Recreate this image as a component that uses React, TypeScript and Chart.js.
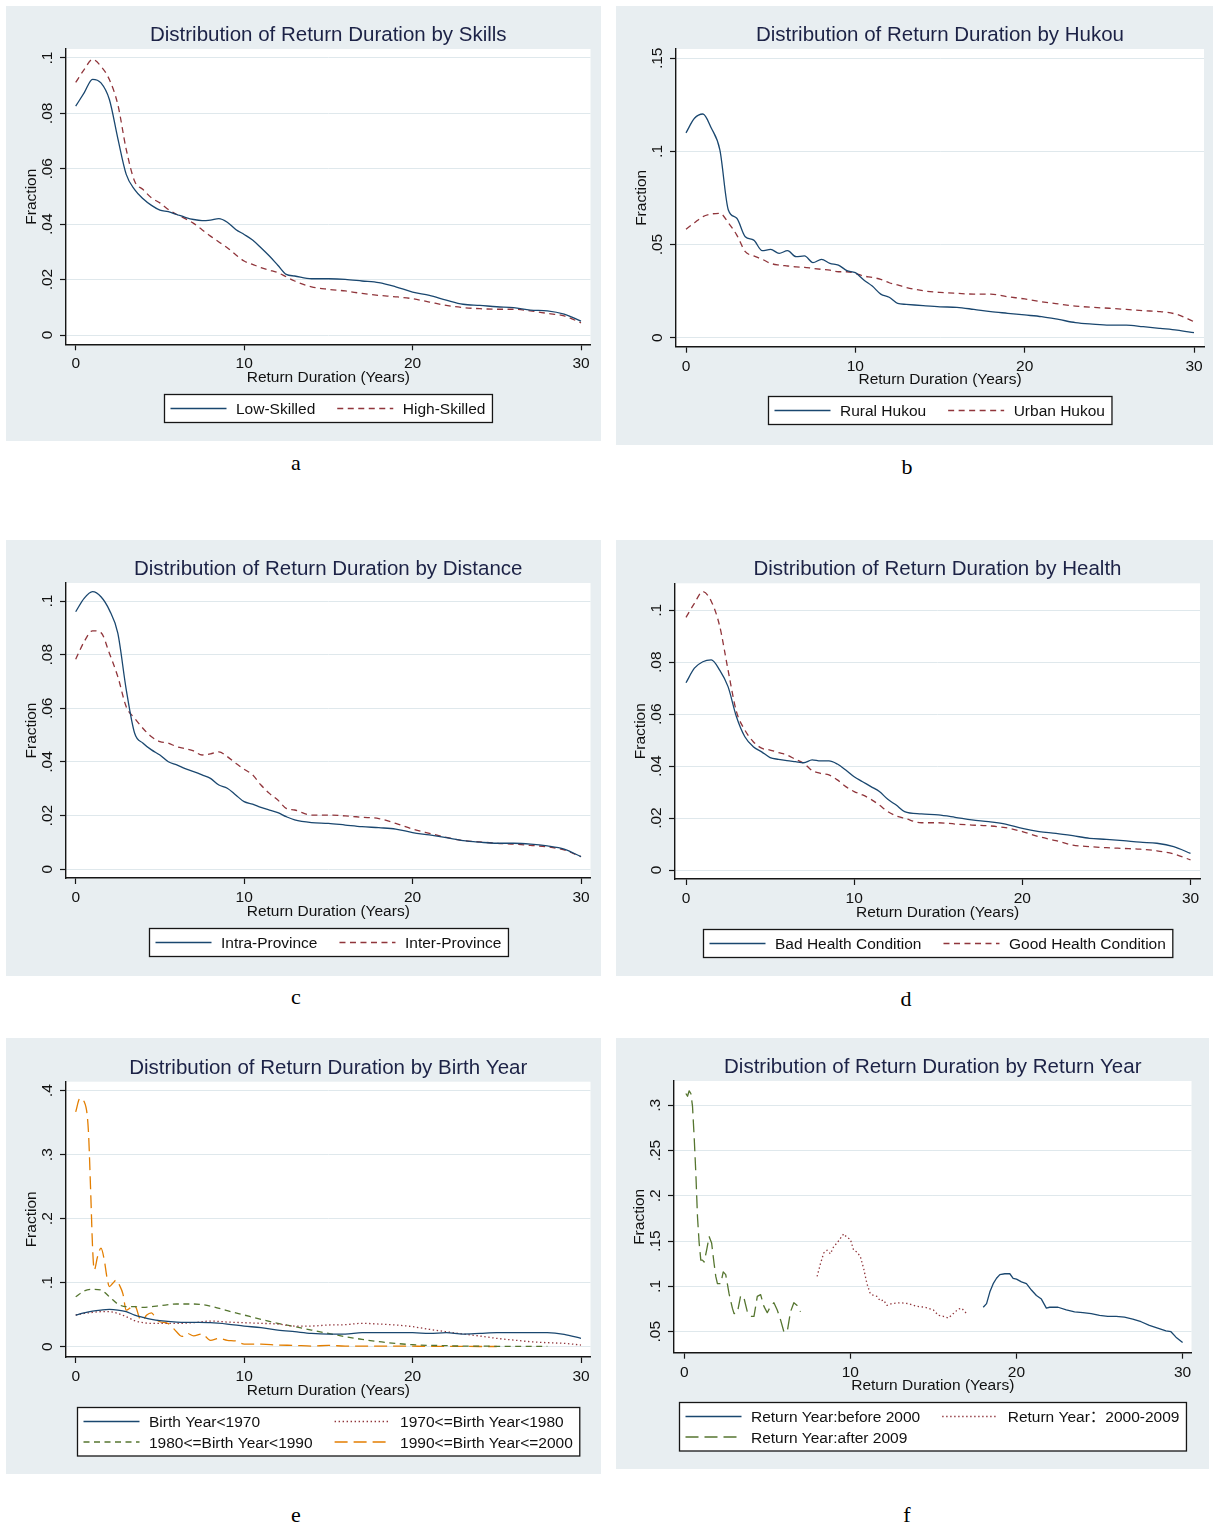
import React, { useEffect, useRef } from 'react';
import { Chart, registerables } from 'chart.js';

Chart.register(...registerables);

// ---------------- data ----------------
const X_TICKS = [0, 10, 20, 30];
const X_TICK_LABELS = ['0', '10', '20', '30'];

const Y_TICKS_02 = [0, 0.02, 0.04, 0.06, 0.08, 0.1];
const Y_LABELS_02 = ['0', '.02', '.04', '.06', '.08', '.1'];
const Y_TICKS_B = [0, 0.05, 0.1, 0.15];
const Y_LABELS_B = ['0', '.05', '.1', '.15'];
const Y_TICKS_E = [0, 0.1, 0.2, 0.3, 0.4];
const Y_LABELS_E = ['0', '.1', '.2', '.3', '.4'];
const Y_TICKS_F = [0.05, 0.1, 0.15, 0.2, 0.25, 0.3];
const Y_LABELS_F = ['.05', '.1', '.15', '.2', '.25', '.3'];

// duration grid used by panels a-d
const X_AD = [0, 0.5, 1, 1.5, 2, 2.5, 3, 3.5, 4, 4.5, 5, 5.5, 6, 6.5, 7, 7.5, 8, 8.5, 9, 9.5, 10, 10.5, 11, 11.5, 12, 12.5, 13,
  14, 15, 16, 17, 18, 19, 20, 21, 22, 23, 24, 25, 26, 27, 28, 29, 30];

const A_LOW = [0.0826, 0.0874, 0.0923, 0.091, 0.085, 0.071, 0.058, 0.0525, 0.0492, 0.0468,
  0.0451, 0.0445, 0.0435, 0.0425, 0.0417, 0.0413, 0.0415, 0.042, 0.0407, 0.0381,
  0.0363, 0.0343, 0.0315, 0.0285, 0.0252, 0.0219, 0.0213,
  0.0203, 0.0203, 0.0201, 0.0195, 0.0189, 0.0174, 0.0155, 0.0143, 0.0126, 0.0111, 0.0107, 0.0102, 0.0099, 0.009, 0.0087, 0.0075, 0.005];
const A_HIGH = [0.0912, 0.0958, 0.0995, 0.097, 0.0922, 0.0832, 0.067, 0.0555, 0.0525, 0.0495,
  0.0477, 0.0453, 0.0435, 0.042, 0.0403, 0.038, 0.0357, 0.0336, 0.0315, 0.029,
  0.0267, 0.0255, 0.0243, 0.0234, 0.0225, 0.021, 0.0195,
  0.0174, 0.0165, 0.0159, 0.015, 0.0143, 0.0138, 0.0131, 0.0119, 0.0107, 0.0099, 0.0095, 0.0093, 0.0093, 0.0087, 0.0078, 0.0069, 0.0044];

const B_RURAL = [0.11, 0.1178, 0.1201, 0.1124, 0.1008, 0.0686, 0.0641, 0.0542, 0.0524, 0.0467,
  0.0474, 0.0453, 0.0467, 0.0435, 0.0439, 0.0403, 0.0421, 0.0399, 0.039, 0.036,
  0.0349, 0.031, 0.0277, 0.0234, 0.0217, 0.0184, 0.0179,
  0.0172, 0.0166, 0.0163, 0.0152, 0.014, 0.0131, 0.0122, 0.0113, 0.0098, 0.0081, 0.0073, 0.0068, 0.0068, 0.0059, 0.005, 0.0041, 0.0027];
const B_URBAN = [0.0582, 0.0617, 0.065, 0.0664, 0.0668, 0.0617, 0.0551, 0.0462, 0.0439, 0.0421,
  0.0399, 0.039, 0.0385, 0.038, 0.0378, 0.0372, 0.0367, 0.0363, 0.0354, 0.0354,
  0.0345, 0.0331, 0.0324, 0.0313, 0.0295, 0.0283, 0.027,
  0.0252, 0.0243, 0.0238, 0.0234, 0.0234, 0.022, 0.0208, 0.0193, 0.0181, 0.017, 0.0163, 0.0158, 0.0152, 0.0145, 0.014, 0.0125, 0.0086];

const C_INTRA = [0.096, 0.101, 0.1035, 0.1016, 0.0966, 0.088, 0.067, 0.0507, 0.047, 0.0445,
  0.0426, 0.0401, 0.0389, 0.0375, 0.0364, 0.0352, 0.0339, 0.0314, 0.0302, 0.0277,
  0.0252, 0.0243, 0.0231, 0.0221, 0.0211, 0.0196, 0.0184,
  0.0174, 0.0171, 0.0165, 0.0159, 0.0155, 0.015, 0.0137, 0.0128, 0.0118, 0.0107, 0.0101, 0.0097, 0.0097, 0.0094, 0.0087, 0.0075, 0.0047];
const C_INTER = [0.0783, 0.0848, 0.0889, 0.0882, 0.0805, 0.0718, 0.0606, 0.0563, 0.0525, 0.0494,
  0.0476, 0.047, 0.0457, 0.045, 0.0441, 0.0426, 0.043, 0.0438, 0.042, 0.0395,
  0.0373, 0.0352, 0.0314, 0.0283, 0.0258, 0.0227, 0.0221,
  0.0202, 0.0202, 0.0199, 0.0194, 0.0189, 0.0171, 0.015, 0.0134, 0.0119, 0.0107, 0.0102, 0.0097, 0.0094, 0.0089, 0.0084, 0.0072, 0.0047];

const D_BAD = [0.0721, 0.0777, 0.0802, 0.0809, 0.077, 0.0706, 0.059, 0.0513, 0.0475, 0.0455,
  0.0433, 0.0426, 0.0421, 0.0417, 0.0413, 0.0424, 0.042, 0.042, 0.0408, 0.0385,
  0.0359, 0.034, 0.0321, 0.0302, 0.0272, 0.025, 0.0225,
  0.0216, 0.0212, 0.0203, 0.0193, 0.0186, 0.0177, 0.016, 0.0148, 0.0141, 0.0132, 0.0122, 0.0118, 0.0113, 0.0107, 0.0103, 0.009, 0.0064];
const D_GOOD = [0.0973, 0.1027, 0.1072, 0.1035, 0.094, 0.077, 0.061, 0.0539, 0.0494, 0.0469,
  0.0462, 0.0452, 0.0443, 0.0426, 0.0411, 0.0383, 0.0372, 0.0366, 0.0347, 0.0321,
  0.0302, 0.0289, 0.0272, 0.025, 0.0225, 0.0208, 0.0199,
  0.0182, 0.0182, 0.0177, 0.0173, 0.017, 0.0163, 0.0148, 0.0128, 0.0113, 0.0096, 0.009, 0.0086, 0.0083, 0.008, 0.0074, 0.0062, 0.0039];

// panel e
const X_E = [0, 0.5, 1, 1.5, 2, 2.5, 3, 3.5, 4, 4.5, 5, 6, 7, 8, 9, 10, 11, 12, 13, 14, 15, 16, 17, 18, 19, 20,
  21, 22, 23, 24, 25, 26, 27, 28, 29, 30];
const E_BEFORE1970 = [0.0495, 0.053, 0.0557, 0.0573, 0.0583, 0.0573, 0.0547, 0.0495, 0.0458, 0.0427, 0.0406,
  0.0385, 0.038, 0.0375, 0.0354, 0.0323, 0.0297, 0.026, 0.0234, 0.0208, 0.0198, 0.0198, 0.0219, 0.0219, 0.0219, 0.0219,
  0.0208, 0.0219, 0.0198, 0.0208, 0.0219, 0.0219, 0.0219, 0.0219, 0.0193, 0.013];
const E_1970S = [0.0495, 0.052, 0.0536, 0.0547, 0.0547, 0.052, 0.0469, 0.0406, 0.0375, 0.0365, 0.0365,
  0.0365, 0.0375, 0.0401, 0.0385, 0.0375, 0.0365, 0.0354, 0.0323, 0.0323, 0.0339, 0.0344, 0.0365, 0.0354, 0.0339, 0.0313,
  0.0271, 0.0234, 0.0198, 0.0167, 0.013, 0.0104, 0.0078, 0.0063, 0.0052, 0.0026];
const E_1980S = [0.078, 0.087, 0.0896, 0.0885, 0.078, 0.0667, 0.0625, 0.0625, 0.0615, 0.0625, 0.064,
  0.0667, 0.0667, 0.0635, 0.0563, 0.0495, 0.0427, 0.0365, 0.0313, 0.026, 0.0208, 0.0156, 0.0115, 0.0078, 0.0052, 0.0031,
  0.0021, 0.0016, 0.001, 0.001, 0.0005, 0.0005, 0.0005, 0.0005, null, null];
const X_E_1990S = [0, 0.25, 0.5, 0.75, 0.9, 1.0, 1.1, 1.3, 1.5, 1.7, 1.85, 2, 2.2, 2.4, 2.6, 2.8, 3, 3.2, 3.4, 3.6,
  3.8, 4, 4.2, 4.5, 4.8, 5, 5.5, 6, 6.3, 6.6, 7, 7.5, 8, 8.5, 9, 9.5, 10, 11, 12, 13,
  14, 15, 16, 17, 18, 19, 20, 21, 22, 23, 24, 25];
const E_1990S = [0.367, 0.388, 0.383, 0.339, 0.234, 0.156, 0.12, 0.141, 0.154, 0.135, 0.109, 0.094, 0.099, 0.104, 0.096, 0.083, 0.057, 0.06, 0.065, 0.06,
  0.044, 0.042, 0.049, 0.053, 0.042, 0.039, 0.036, 0.023, 0.016, 0.021, 0.017, 0.02, 0.01, 0.013, 0.01, 0.009, 0.004, 0.004, 0.0026, 0.002,
  0.001, 0.002, 0.001, 0.001, 0.001, 0.001, 0.0008, 0.0006, 0.0005, 0.0004, 0.0003, 0.0003];

// panel f
const X_F_BEFORE = [18.0, 18.2, 18.4, 18.6, 18.8, 19.0, 19.3, 19.6, 19.8, 20.0, 20.3, 20.6, 20.9, 21.2, 21.5, 21.8, 22.0,
  22.5, 23, 23.5, 24, 24.5, 25, 25.5, 26, 26.5, 27, 27.5, 28, 28.5, 29, 29.3, 29.6, 30];
const F_BEFORE = [0.077, 0.081, 0.094, 0.103, 0.109, 0.113, 0.114, 0.114, 0.109, 0.108, 0.105, 0.103, 0.096, 0.09, 0.086, 0.076, 0.077,
  0.077, 0.074, 0.072, 0.071, 0.07, 0.068, 0.067, 0.067, 0.066, 0.064, 0.061, 0.057, 0.054, 0.051, 0.05, 0.044, 0.038];
const X_F_MID = [8.0, 8.2, 8.4, 8.6, 8.8, 9.0, 9.2, 9.4, 9.6, 9.8, 10.0, 10.2, 10.4, 10.6, 10.8, 11.0, 11.2, 11.4, 11.6, 11.8, 12.0, 12.2,
  12.5, 13.0, 13.5, 14.0, 14.5, 15.0, 15.3, 15.6, 15.9, 16.2, 16.5, 16.7, 17.0];
const F_MID = [0.111, 0.125, 0.137, 0.14, 0.136, 0.144, 0.148, 0.153, 0.158, 0.154, 0.152, 0.14, 0.138, 0.133, 0.12, 0.103, 0.092, 0.09, 0.089, 0.084, 0.085, 0.079,
  0.081, 0.082, 0.081, 0.078, 0.077, 0.074, 0.068, 0.067, 0.065, 0.07, 0.075, 0.076, 0.07];
const X_F_AFTER = [0.1, 0.2, 0.3, 0.4, 0.5, 0.6, 0.7, 0.8, 0.9, 1.0, 1.1, 1.2, 1.35, 1.5, 1.65, 1.8, 1.9, 2.0, 2.2, 2.35, 2.5, 2.7, 2.9, 3.0,
  3.2, 3.4, 3.6, 3.8, 4.0, 4.2, 4.4, 4.6, 4.8, 5.0, 5.2, 5.4, 5.6, 5.8, 6.0, 6.2, 6.4, 6.6, 6.8, 7.0];
const F_AFTER = [0.313, 0.31, 0.316, 0.313, 0.299, 0.265, 0.225, 0.177, 0.148, 0.129, 0.129, 0.127, 0.14, 0.155, 0.148, 0.125, 0.111, 0.103, 0.103, 0.116, 0.113, 0.092, 0.076, 0.07,
  0.071, 0.09, 0.087, 0.072, 0.067, 0.067, 0.089, 0.091, 0.078, 0.071, 0.078, 0.082, 0.074, 0.063, 0.05, 0.05, 0.072, 0.082, 0.079, 0.072];

// ---------------- styles ----------------
const FAMILY = "'Liberation Sans', Arial, 'Noto Sans CJK SC', sans-serif";
const TITLE_FONT = `20.5px ${FAMILY}`;
const TEXT_FONT = `15.5px ${FAMILY}`;
const BG = '#e8eef1';
const GRID = '#dfe8ec';
const AXIS = '#161616';
const TEXT = '#111111';
const TITLE_COLOR = '#1c2246';
const NAVY = '#1a476f';
const MAROON = '#90353b';
const GREEN = '#55752f';
const ORANGE = '#e37e00';
const LW = 1.3;
const SOLID: number[] = [];
const DASH = [6, 4.5];
const DOT = [1.4, 2.6];
const LONGDASH = [13, 6];

type Series = { label: string; xs: number[]; ys: (number | null)[]; color: string; dash: number[] };
type Panel = {
  id: string; letter: string; title: string;
  gx: number; gy: number; gw: number; gh: number;
  L: number; R: number; T: number; B: number;
  x0: number; x30: number;
  yv1: number; yp1: number; yv2: number; yp2: number;
  yTicks: number[]; yLabels: string[];
  series: Series[]; cols: number; smooth: boolean;
  letterX: number; letterY: number;
};

const PANELS: Panel[] = [
  {
    id: 'a', letter: 'a', title: 'Distribution of Return Duration by Skills',
    gx: 6, gy: 6, gw: 595, gh: 435, L: 66, R: 590.5, T: 49, B: 344.3, x0: 75.7, x30: 581,
    yv1: 0, yp1: 335, yv2: 0.1, yp2: 58, yTicks: Y_TICKS_02, yLabels: Y_LABELS_02, cols: 2, smooth: true,
    series: [
      { label: 'Low-Skilled', xs: X_AD, ys: A_LOW, color: NAVY, dash: SOLID },
      { label: 'High-Skilled', xs: X_AD, ys: A_HIGH, color: MAROON, dash: DASH },
    ],
    letterX: 296, letterY: 470.5,
  },
  {
    id: 'b', letter: 'b', title: 'Distribution of Return Duration by Hukou',
    gx: 616, gy: 6, gw: 597, gh: 439, L: 676, R: 1204, T: 49, B: 346.7, x0: 686, x30: 1194,
    yv1: 0, yp1: 337.7, yv2: 0.15, yp2: 58.3, yTicks: Y_TICKS_B, yLabels: Y_LABELS_B, cols: 2, smooth: true,
    series: [
      { label: 'Rural Hukou', xs: X_AD, ys: B_RURAL, color: NAVY, dash: SOLID },
      { label: 'Urban Hukou', xs: X_AD, ys: B_URBAN, color: MAROON, dash: DASH },
    ],
    letterX: 907, letterY: 474.5,
  },
  {
    id: 'c', letter: 'c', title: 'Distribution of Return Duration by Distance',
    gx: 6, gy: 540, gw: 595, gh: 436, L: 66, R: 590.5, T: 583, B: 878, x0: 75.7, x30: 581,
    yv1: 0, yp1: 869.3, yv2: 0.1, yp2: 601, yTicks: Y_TICKS_02, yLabels: Y_LABELS_02, cols: 2, smooth: true,
    series: [
      { label: 'Intra-Province', xs: X_AD, ys: C_INTRA, color: NAVY, dash: SOLID },
      { label: 'Inter-Province', xs: X_AD, ys: C_INTER, color: MAROON, dash: DASH },
    ],
    letterX: 296, letterY: 1004,
  },
  {
    id: 'd', letter: 'd', title: 'Distribution of Return Duration by Health',
    gx: 616, gy: 540, gw: 597, gh: 436, L: 675, R: 1200, T: 583.3, B: 879, x0: 686, x30: 1190.5,
    yv1: 0, yp1: 870, yv2: 0.1, yp2: 610.3, yTicks: Y_TICKS_02, yLabels: Y_LABELS_02, cols: 2, smooth: true,
    series: [
      { label: 'Bad Health Condition', xs: X_AD, ys: D_BAD, color: NAVY, dash: SOLID },
      { label: 'Good Health Condition', xs: X_AD, ys: D_GOOD, color: MAROON, dash: DASH },
    ],
    letterX: 906, letterY: 1006,
  },
  {
    id: 'e', letter: 'e', title: 'Distribution of Return Duration by Birth Year',
    gx: 6, gy: 1038, gw: 595, gh: 436, L: 66, R: 590.5, T: 1081.7, B: 1357, x0: 75.7, x30: 581,
    yv1: 0, yp1: 1346.7, yv2: 0.4, yp2: 1090.7, yTicks: Y_TICKS_E, yLabels: Y_LABELS_E, cols: 2, smooth: true,
    series: [
      { label: 'Birth Year<1970', xs: X_E, ys: E_BEFORE1970, color: NAVY, dash: SOLID },
      { label: '1970<=Birth Year<1980', xs: X_E, ys: E_1970S, color: MAROON, dash: DOT },
      { label: '1980<=Birth Year<1990', xs: X_E, ys: E_1980S, color: GREEN, dash: DASH },
      { label: '1990<=Birth Year<=2000', xs: X_E_1990S, ys: E_1990S, color: ORANGE, dash: LONGDASH },
    ],
    letterX: 296, letterY: 1522,
  },
  {
    id: 'f', letter: 'f', title: 'Distribution of Return Duration by Return Year',
    gx: 616, gy: 1038, gw: 593, gh: 431, L: 674, R: 1191.5, T: 1081, B: 1352.7, x0: 684.2, x30: 1182.6,
    yv1: 0.05, yp1: 1331.7, yv2: 0.3, yp2: 1105.3, yTicks: Y_TICKS_F, yLabels: Y_LABELS_F, cols: 2, smooth: false,
    series: [
      { label: 'Return Year:before 2000', xs: X_F_BEFORE, ys: F_BEFORE, color: NAVY, dash: SOLID },
      { label: 'Return Year\uFF1A2000-2009', xs: X_F_MID, ys: F_MID, color: MAROON, dash: DOT },
      { label: 'Return Year:after 2009', xs: X_F_AFTER, ys: F_AFTER, color: GREEN, dash: LONGDASH },
    ],
    letterX: 907, letterY: 1522,
  },
];

const LG = { padL: 6, sample: 56, gap: 9.5, colGap: 22, padR: 7, rowH: 20.5 };

function drawLegend(ctx: CanvasRenderingContext2D, items: Series[], cols: number, cx: number, top: number) {
  ctx.save();
  ctx.font = TEXT_FONT;
  const rows = Math.ceil(items.length / cols);
  const colW: number[] = [];
  for (let c = 0; c < cols; c++) {
    let m = 0;
    for (let r = 0; r < rows; r++) {
      const it = items[r * cols + c];
      if (it) m = Math.max(m, ctx.measureText(it.label).width);
    }
    colW.push(LG.sample + LG.gap + m);
  }
  const w = LG.padL + colW.reduce((a, b) => a + b, 0) + LG.colGap * (cols - 1) + LG.padR;
  const h = rows === 1 ? 28 : 48.5;
  const left = Math.round(cx - w / 2) + 0.5;
  const tp = Math.round(top) + 0.5;
  ctx.fillStyle = '#ffffff';
  ctx.fillRect(left, tp, w, h);
  ctx.strokeStyle = AXIS;
  ctx.lineWidth = 1.3;
  ctx.strokeRect(left, tp, w, h);
  items.forEach((it, i) => {
    const r = Math.floor(i / cols);
    const c = i % cols;
    let x = left + LG.padL;
    for (let k = 0; k < c; k++) x += colW[k] + LG.colGap;
    const yc = tp + 14 + r * LG.rowH;
    ctx.save();
    ctx.strokeStyle = it.color;
    ctx.lineWidth = LW;
    ctx.setLineDash(it.dash);
    ctx.beginPath();
    ctx.moveTo(x, yc);
    ctx.lineTo(x + LG.sample, yc);
    ctx.stroke();
    ctx.restore();
    ctx.fillStyle = TEXT;
    ctx.textAlign = 'left';
    ctx.textBaseline = 'alphabetic';
    ctx.fillText(it.label, x + LG.sample + LG.gap, yc + 5.5);
  });
  ctx.restore();
}

function makePlugin(p: Panel) {
  return {
    id: 'stata_' + p.id,
    beforeDraw(chart: any) {
      const { ctx, chartArea: ca, width, height } = chart;
      ctx.save();
      ctx.fillStyle = BG;
      ctx.fillRect(0, 0, width, height);
      ctx.fillStyle = '#ffffff';
      ctx.fillRect(ca.left, ca.top, ca.right - ca.left, ca.bottom - ca.top);
      ctx.restore();
    },
    afterDraw(chart: any) {
      const { ctx, chartArea: ca } = chart;
      const xs = chart.scales.x;
      const ys = chart.scales.y;
      const cx = (ca.left + ca.right) / 2;
      ctx.save();
      // title
      ctx.font = TITLE_FONT;
      ctx.fillStyle = TITLE_COLOR;
      ctx.textAlign = 'center';
      ctx.textBaseline = 'alphabetic';
      ctx.fillText(p.title, cx, ca.top - 8);
      // y tick labels (rotated)
      ctx.font = TEXT_FONT;
      ctx.fillStyle = TEXT;
      p.yTicks.forEach((v, i) => {
        const y = ys.getPixelForValue(v);
        ctx.save();
        ctx.translate(ca.left - 14.5, y);
        ctx.rotate(-Math.PI / 2);
        ctx.textAlign = 'center';
        ctx.fillText(p.yLabels[i], 0, 0);
        ctx.restore();
      });
      // y title
      ctx.save();
      ctx.translate(ca.left - 30, (ca.top + ca.bottom) / 2);
      ctx.rotate(-Math.PI / 2);
      ctx.textAlign = 'center';
      ctx.fillText('Fraction', 0, 0);
      ctx.restore();
      // x tick labels
      ctx.textAlign = 'center';
      X_TICKS.forEach((v, i) => {
        ctx.fillText(X_TICK_LABELS[i], xs.getPixelForValue(v), ca.bottom + 24);
      });
      // x title
      ctx.fillText('Return Duration (Years)', cx, ca.bottom + 37.5);
      ctx.restore();
      // legend
      drawLegend(ctx, p.series, p.cols, cx, ca.bottom + 49.5);
    },
  };
}

function buildChart(canvas: HTMLCanvasElement, p: Panel) {
  const xppu = (p.x30 - p.x0) / 30;
  const xmin = (p.L - p.x0) / xppu;
  const xmax = (p.R - p.x0) / xppu;
  const yppu = (p.yp1 - p.yp2) / (p.yv2 - p.yv1);
  const ymin = p.yv1 - (p.B - p.yp1) / yppu;
  const ymax = p.yv1 + (p.yp1 - p.T) / yppu;
  const YW = 10;
  const XH = 10;
  const padding = {
    left: p.L - p.gx - YW,
    top: p.T - p.gy,
    right: p.gx + p.gw - p.R,
    bottom: p.gy + p.gh - p.B - XH,
  };
  return new Chart(canvas, {
    type: 'line',
    data: {
      datasets: p.series.map((s) => ({
        label: s.label,
        data: s.xs.map((x, i) => ({ x, y: s.ys[i] })),
        borderColor: s.color,
        backgroundColor: s.color,
        borderWidth: LW,
        borderDash: s.dash,
        borderCapStyle: 'butt',
        borderJoinStyle: 'round',
        pointRadius: 0,
        pointHoverRadius: 0,
        fill: false,
        tension: 0,
        cubicInterpolationMode: p.smooth ? 'monotone' : 'default',
        spanGaps: false,
      })),
    } as any,
    options: {
      animation: false,
      responsive: false,
      maintainAspectRatio: false,
      events: [],
      layout: { padding, autoPadding: false },
      plugins: { legend: { display: false }, title: { display: false }, tooltip: { enabled: false } },
      scales: {
        x: {
          type: 'linear',
          min: xmin,
          max: xmax,
          afterBuildTicks: (scale: any) => { scale.ticks = X_TICKS.map((v) => ({ value: v })); },
          afterFit: (scale: any) => { scale.height = XH; },
          ticks: { display: false },
          grid: { display: true, drawOnChartArea: false, drawTicks: true, tickLength: 6, tickColor: AXIS, tickWidth: 1.2 },
          border: { display: true, color: AXIS, width: 1.4 },
        },
        y: {
          type: 'linear',
          min: ymin,
          max: ymax,
          afterBuildTicks: (scale: any) => { scale.ticks = p.yTicks.map((v) => ({ value: v })); },
          afterFit: (scale: any) => { scale.width = YW; },
          ticks: { display: false },
          grid: { display: true, color: GRID, lineWidth: 1, drawTicks: true, tickLength: 6, tickColor: AXIS, tickWidth: 1.2 },
          border: { display: true, color: AXIS, width: 1.4 },
        },
      },
    } as any,
    plugins: [makePlugin(p)],
  });
}

function PanelChart({ p }: { p: Panel }) {
  const ref = useRef<HTMLCanvasElement | null>(null);
  useEffect(() => {
    if (!ref.current) return;
    const chart = buildChart(ref.current, p);
    return () => chart.destroy();
  }, [p]);
  return (
    <canvas
      ref={ref}
      width={p.gw}
      height={p.gh}
      style={{ position: 'absolute', left: p.gx, top: p.gy, width: p.gw, height: p.gh, display: 'block' }}
    />
  );
}

export default function App() {
  return (
    <div style={{ position: 'absolute', left: 0, top: 0, width: 1214, height: 1526, overflow: 'hidden', background: '#ffffff' }}>
      {PANELS.map((p) => <PanelChart key={p.id} p={p} />)}
      {PANELS.map((p) => (
        <div
          key={'letter-' + p.id}
          style={{
            position: 'absolute', left: p.letterX - 30, top: p.letterY - 18.4, width: 60, textAlign: 'center',
            font: "22px 'Liberation Serif', 'Times New Roman', serif", lineHeight: '22px', color: '#000',
          }}
        >
          {p.letter}
        </div>
      ))}
    </div>
  );
}
